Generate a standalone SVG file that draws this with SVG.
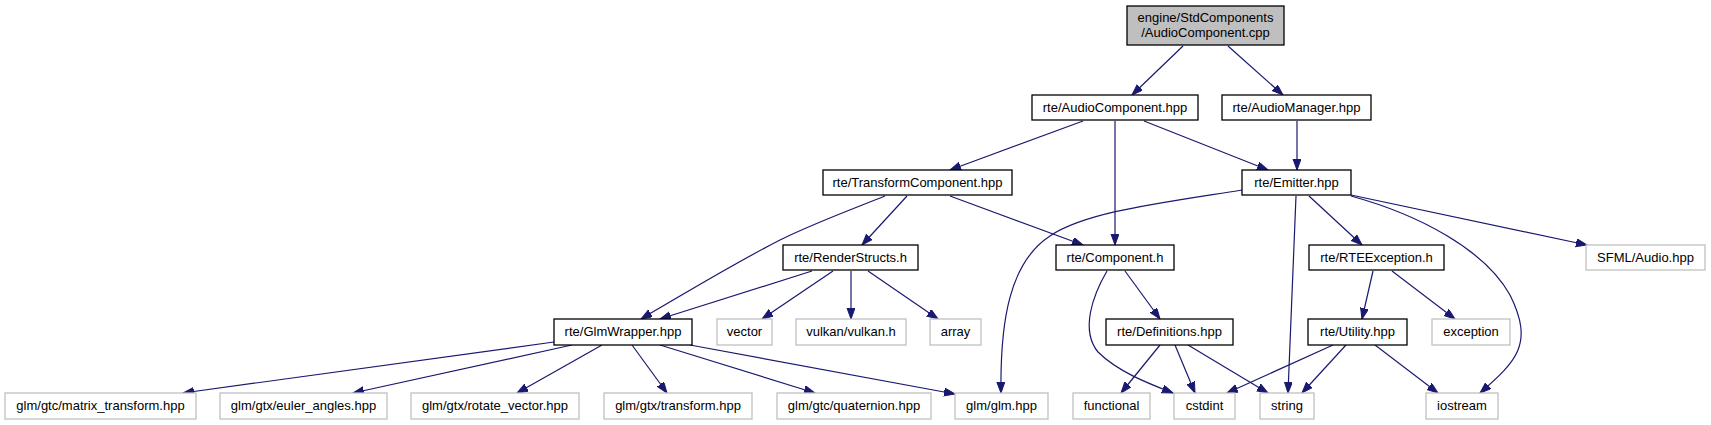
<svg xmlns="http://www.w3.org/2000/svg" width="1711" height="425" viewBox="0 0 1711 425">
<style>
text{font-family:"Liberation Sans",Arial,sans-serif;font-size:13px;fill:#000;text-anchor:middle}
.n rect{fill:#fff;stroke:#000;stroke-width:1.3}
.g rect{fill:#fff;stroke:#c0c0c0;stroke-width:1.3}
.top rect{fill:#bfbfbf;stroke:#000;stroke-width:1.3}
#edges path{fill:none;stroke:#191970;stroke-width:1.2;marker-end:url(#ah)}
</style>
<defs>
<marker id="ah" markerUnits="userSpaceOnUse" markerWidth="12" markerHeight="10" refX="11" refY="4" orient="auto">
<path d="M0,0 L11,4 L0,8 z" fill="#191970" stroke="#191970" stroke-width="1"/>
</marker>
</defs>
<rect width="1711" height="425" fill="#fff"/>
<g id="edges">
<path d="M1183,46 L1132,95"/>
<path d="M1228,46 L1283,95"/>
<path d="M1083,121 L950,170"/>
<path d="M1115,121 L1115,245"/>
<path d="M1144,121 L1268,170"/>
<path d="M1297,121 L1297,170"/>
<path d="M885,196 C850,210 812,224 780,240 C735,263 685,293 641,319"/>
<path d="M907,196 L862,245"/>
<path d="M950,196 L1083,245"/>
<path d="M812,271 L660,319"/>
<path d="M833,271 L762,319"/>
<path d="M851,271 L851,319"/>
<path d="M868,271 L938,319"/>
<path d="M1242,190 C1160,203 1085,212 1050,236 C1010,262 1000,320 1001,393"/>
<path d="M1296,196 L1288,393"/>
<path d="M1309,196 L1362,245"/>
<path d="M1351,196 C1420,215 1485,250 1510,295 C1535,345 1515,362 1480,393"/>
<path d="M1351,195 L1587,245"/>
<path d="M1107,271 C1093,295 1080,330 1098,352 C1118,372 1150,384 1173,393"/>
<path d="M1125,271 L1160,319"/>
<path d="M1160,345 L1121,393"/>
<path d="M1175,345 L1195,393"/>
<path d="M1188,345 L1268,393"/>
<path d="M1373,271 L1362,319"/>
<path d="M1392,271 L1455,319"/>
<path d="M1333,345 L1227,393"/>
<path d="M1346,345 L1302,393"/>
<path d="M1375,345 L1438,393"/>
<path d="M554,342 L183,393"/>
<path d="M572,345 L353,393"/>
<path d="M602,345 L517,393"/>
<path d="M632,345 L667,393"/>
<path d="M660,345 L815,393"/>
<path d="M690,345 L955,394"/>
</g>
<g id="n_top" class="top"><rect x="1127" y="6" width="157" height="39"/><text x="1205.5" y="22">engine/StdComponents</text><text x="1205.5" y="37">/AudioComponent.cpp</text></g>
<g id="n_audiocomponent" class="n"><rect x="1032" y="95" width="166" height="25"/><text x="1115" y="112">rte/AudioComponent.hpp</text></g>
<g id="n_audiomanager" class="n"><rect x="1222" y="95" width="149" height="25"/><text x="1296.5" y="112">rte/AudioManager.hpp</text></g>
<g id="n_transform" class="n"><rect x="823" y="170" width="189" height="25"/><text x="917.5" y="187">rte/TransformComponent.hpp</text></g>
<g id="n_emitter" class="n"><rect x="1242" y="170" width="109" height="25"/><text x="1296.5" y="187">rte/Emitter.hpp</text></g>
<g id="n_renderstructs" class="n"><rect x="783" y="245" width="135" height="25"/><text x="850.5" y="262">rte/RenderStructs.h</text></g>
<g id="n_component" class="n"><rect x="1056" y="245" width="118" height="25"/><text x="1115" y="262">rte/Component.h</text></g>
<g id="n_rteexception" class="n"><rect x="1309" y="245" width="135" height="25"/><text x="1376.5" y="262">rte/RTEException.h</text></g>
<g id="n_sfml" class="g"><rect x="1586" y="245" width="119" height="25"/><text x="1645.5" y="262">SFML/Audio.hpp</text></g>
<g id="n_glmwrapper" class="n"><rect x="554" y="319" width="138" height="26"/><text x="623" y="336">rte/GlmWrapper.hpp</text></g>
<g id="n_vector" class="g"><rect x="717" y="319" width="55" height="26"/><text x="744.5" y="336">vector</text></g>
<g id="n_vulkan" class="g"><rect x="796" y="319" width="110" height="26"/><text x="851" y="336">vulkan/vulkan.h</text></g>
<g id="n_array" class="g"><rect x="930" y="319" width="51" height="26"/><text x="955.5" y="336">array</text></g>
<g id="n_definitions" class="n"><rect x="1106" y="319" width="127" height="26"/><text x="1169.5" y="336">rte/Definitions.hpp</text></g>
<g id="n_utility" class="n"><rect x="1308" y="319" width="99" height="26"/><text x="1357.5" y="336">rte/Utility.hpp</text></g>
<g id="n_exception" class="g"><rect x="1432" y="319" width="78" height="26"/><text x="1471" y="336">exception</text></g>
<g id="n_matrix" class="g"><rect x="5" y="393" width="191" height="26"/><text x="100.5" y="410">glm/gtc/matrix_transform.hpp</text></g>
<g id="n_euler" class="g"><rect x="220" y="393" width="167" height="26"/><text x="303.5" y="410">glm/gtx/euler_angles.hpp</text></g>
<g id="n_rotate" class="g"><rect x="411" y="393" width="168" height="26"/><text x="495" y="410">glm/gtx/rotate_vector.hpp</text></g>
<g id="n_gtxtransform" class="g"><rect x="604" y="393" width="148" height="26"/><text x="678" y="410">glm/gtx/transform.hpp</text></g>
<g id="n_quaternion" class="g"><rect x="777" y="393" width="154" height="26"/><text x="854" y="410">glm/gtc/quaternion.hpp</text></g>
<g id="n_glm" class="g"><rect x="955" y="393" width="93" height="26"/><text x="1001.5" y="410">glm/glm.hpp</text></g>
<g id="n_functional" class="g"><rect x="1073" y="393" width="77" height="26"/><text x="1111.5" y="410">functional</text></g>
<g id="n_cstdint" class="g"><rect x="1174" y="393" width="61" height="26"/><text x="1204.5" y="410">cstdint</text></g>
<g id="n_string" class="g"><rect x="1260" y="393" width="54" height="26"/><text x="1287" y="410">string</text></g>
<g id="n_iostream" class="g"><rect x="1426" y="393" width="72" height="26"/><text x="1462" y="410">iostream</text></g>
</svg>
